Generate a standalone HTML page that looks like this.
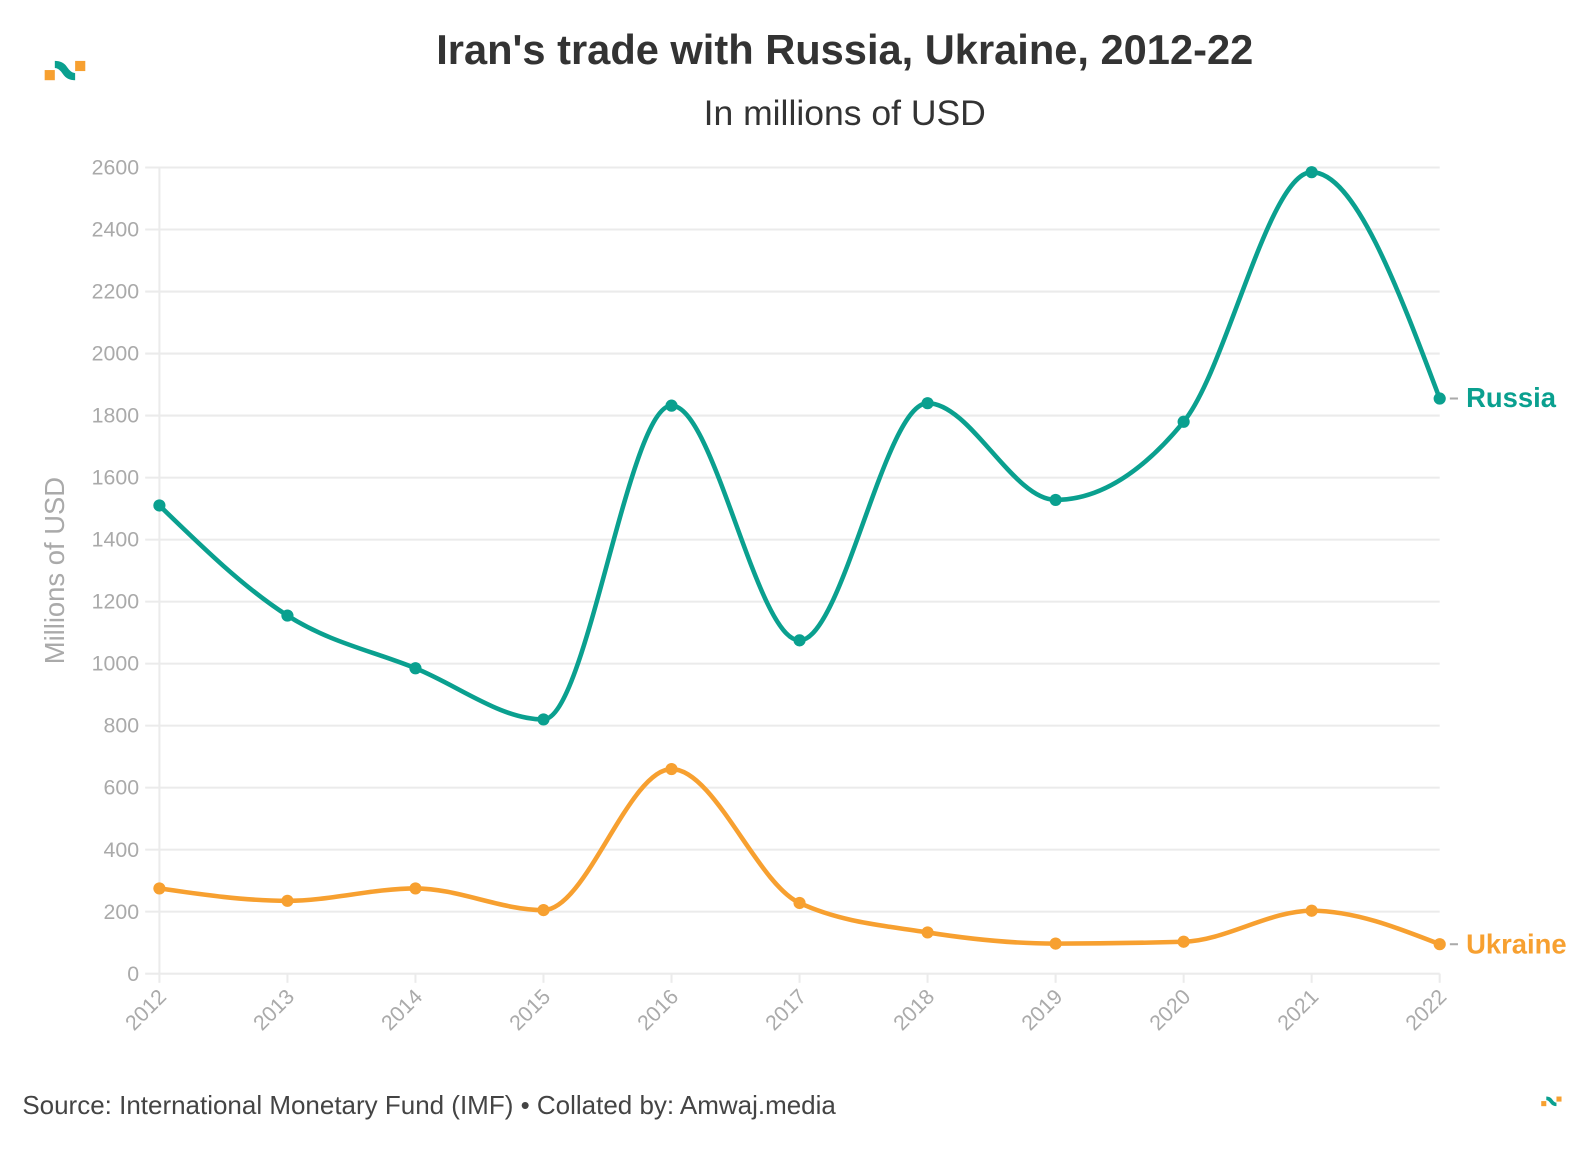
<!DOCTYPE html>
<html><head><meta charset="utf-8"><style>
body{margin:0;background:#fff;width:1592px;height:1150px;overflow:hidden;font-family:"Liberation Sans",sans-serif}
</style></head><body>
<svg id="s" width="1592" height="1150" xmlns="http://www.w3.org/2000/svg" font-family="Liberation Sans, sans-serif">
<g transform="scale(1.0153)">
<text x="832" y="63" text-anchor="middle" font-size="41" font-weight="bold" fill="#333">Iran's trade with Russia, Ukraine, 2012-22</text>
<text x="832" y="123" text-anchor="middle" font-size="35" fill="#333">In millions of USD</text>
<g transform="translate(44,60)">
<rect x="0" y="9" width="10" height="10" fill="#f7a030"/>
<rect x="30" y="0" width="10" height="10" fill="#f7a030"/>
<path d="M10 0 Q18 0 22 6 Q26 12 30 12 L30 19 Q22 19 18 13 Q14 7 10 7Z" fill="#0aa08f"/>
</g>
<g transform="translate(1518,1080) scale(0.5)">
<rect x="0" y="9" width="10" height="10" fill="#f7a030"/>
<rect x="30" y="0" width="10" height="10" fill="#f7a030"/>
<path d="M10 0 Q18 0 22 6 Q26 12 30 12 L30 19 Q22 19 18 13 Q14 7 10 7Z" fill="#0aa08f"/>
</g>
<g id="grid"></g>
<text transform="translate(63,562) rotate(-90)" text-anchor="middle" font-size="27" fill="#aaa">Millions of USD</text>
<g id="series"></g>
<text x="1444" y="401" font-size="27" font-weight="bold" fill="#0aa08f">Russia</text>
<text x="1444" y="939" font-size="27" font-weight="bold" fill="#f7a030">Ukraine</text>
<line x1="1428" y1="392.5" x2="1436" y2="392.5" stroke="#aaa" stroke-width="2"/>
<line x1="1428" y1="930" x2="1436" y2="930" stroke="#aaa" stroke-width="2"/>
<text x="22" y="1097" font-size="25.6" fill="#444">Source: International Monetary Fund (IMF) • Collated by: Amwaj.media</text>
</g>
</svg>
<script>
var NS="http://www.w3.org/2000/svg",g=document.getElementById('grid'),se=document.getElementById('series');
function el(p,t,a,tx){var e=document.createElementNS(NS,t);for(var k in a)e.setAttribute(k,a[k]);if(tx!==undefined)e.textContent=String(tx);p.appendChild(e);return e;}
function Y(v){return 959-v*794/2600;}
var xs=[];for(var i=0;i<11;i++)xs.push(157+i*126.1);
for(var v=0;v<=2600;v+=200){var y=Y(v);el(g,'line',{x1:143,x2:1418,y1:y,y2:y,stroke:'#ebebeb','stroke-width':2});
el(g,'text',{x:137,y:y+7,'text-anchor':'end','font-size':21,fill:'#aaa'},v);}
el(g,'line',{x1:157,x2:157,y1:165,y2:959,stroke:'#ebebeb','stroke-width':2});
for(var i=0;i<11;i++){el(g,'line',{x1:xs[i],x2:xs[i],y1:959,y2:968,stroke:'#ebebeb','stroke-width':2});
el(g,'text',{transform:'translate('+(xs[i]+8)+',983) rotate(-45)','text-anchor':'end','font-size':21,fill:'#aaa'},2012+i);}
function draw(d,c){var p=d.map(function(v,i){return [xs[i],Y(v)];}),n=p.length,m=[],dl=[];
for(var i=0;i<n-1;i++)dl.push((p[i+1][1]-p[i][1])/(p[i+1][0]-p[i][0]));
for(var i=0;i<n;i++){if(i==0)m.push(dl[0]);else if(i==n-1)m.push(dl[n-2]);else{var a=dl[i-1],b=dl[i];
if(a*b<=0)m.push(0);else{m.push((Math.sign(a)+Math.sign(b))*Math.min(Math.abs(a),Math.abs(b),0.5*Math.abs((a+b)/2)));}}}
m[0]=(3*dl[0]-m[1])/2; m[n-1]=(3*dl[n-2]-m[n-2])/2;
var s='M'+p[0];
for(var i=0;i<n-1;i++){var h=(p[i+1][0]-p[i][0])/3;
s+='C'+(p[i][0]+h)+','+(p[i][1]+m[i]*h)+' '+(p[i+1][0]-h)+','+(p[i+1][1]-m[i+1]*h)+' '+p[i+1];}
el(se,'path',{d:s,fill:'none',stroke:c,'stroke-width':4.5});
p.forEach(function(q){el(se,'circle',{cx:q[0],cy:q[1],r:6,fill:c});});}
draw([1510,1155,985,820,1832,1075,1840,1528,1780,2585,1855],'#0aa08f');
draw([275,235,275,205,660,228,133,97,103,203,95],'#f7a030');
</script>
</body></html>
